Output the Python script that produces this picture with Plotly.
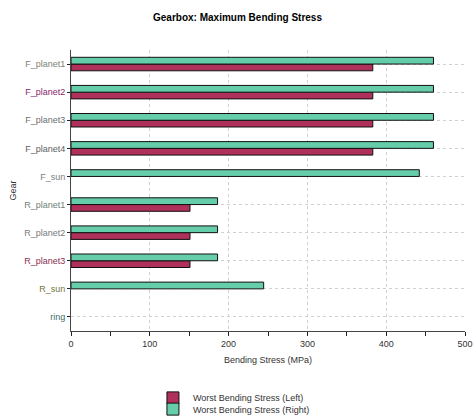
import plotly.graph_objects as go

gears = ["F_planet1", "F_planet2", "F_planet3", "F_planet4", "F_sun",
         "R_planet1", "R_planet2", "R_planet3", "R_sun", "ring"]
label_colors = ["#7f7f72", "#8b1f6e", "#6e6e6e", "#5e5e5e", "#7e7e7e",
                "#6e8276", "#7a7a7a", "#8a3050", "#76763c", "#3f6e66"]
left_stress = [383, 383, 383, 383, None, 151, 151, 151, None, None]
right_stress = [460, 460, 460, 460, 442, 186, 186, 186, 244.5, None]

fig = go.Figure()
fig.add_trace(go.Bar(
    y=gears, x=left_stress, orientation="h", name="Worst Bending Stress (Left)",
    marker=dict(color="#b0305c", line=dict(color="#111111", width=1)),
    legend="legend",
))
fig.add_trace(go.Bar(
    y=gears, x=right_stress, orientation="h", name="Worst Bending Stress (Right)",
    marker=dict(color="#66cdaa", line=dict(color="#111111", width=1)),
    legend="legend2",
))

ticktext = [f'<span style="color:{c}">{g}</span>' for g, c in zip(gears, label_colors)]

legend_common = dict(x=0.208, xanchor="left", yanchor="middle",
                     font=dict(size=9, color="#333333"), bgcolor="rgba(0,0,0,0)")

fig.update_layout(
    width=475, height=420,
    margin=dict(l=71, r=10, t=50, b=89, autoexpand=False),
    paper_bgcolor="white", plot_bgcolor="white",
    font=dict(family="Liberation Sans, Arial, sans-serif", size=9, color="#333333"),
    title=dict(text="<b>Gearbox: Maximum Bending Stress</b>", x=0.5, xanchor="center",
               y=0.958, yanchor="middle", font=dict(size=10, color="#000000")),
    barmode="group", bargap=0.52, bargroupgap=0,
    showlegend=True,
    legend=dict(y=-0.238, **legend_common),
    legend2=dict(y=-0.278, **legend_common),
    xaxis=dict(
        title=dict(text="Bending Stress (MPa)", font=dict(size=9, color="#333333"), standoff=8),
        range=[0, 500], tickvals=[0, 100, 200, 300, 400, 500],
        showgrid=True, gridcolor="#d0d0d0", griddash="dot", gridwidth=1,
        showline=True, linecolor="#444444", linewidth=1,
        ticks="outside", ticklen=4, tickcolor="#222222",
        minor=dict(tickvals=[50, 150, 250, 350, 450], ticks="outside", ticklen=4,
                   tickcolor="#222222", showgrid=False),
        zeroline=False, automargin=False,
    ),
    yaxis=dict(
        title=dict(text="Gear", font=dict(size=9, color="#333333"), standoff=6),
        type="category", categoryorder="array", categoryarray=gears[::-1],
        tickvals=gears, ticktext=ticktext,
        showgrid=True, gridcolor="#d0d0d0", griddash="dot", gridwidth=1,
        showline=True, linecolor="#444444", linewidth=1,
        ticks="outside", ticklen=3, tickcolor="#222222",
        tickfont=dict(size=9), automargin=False,
    ),
)

fig.write_html("out.html")
